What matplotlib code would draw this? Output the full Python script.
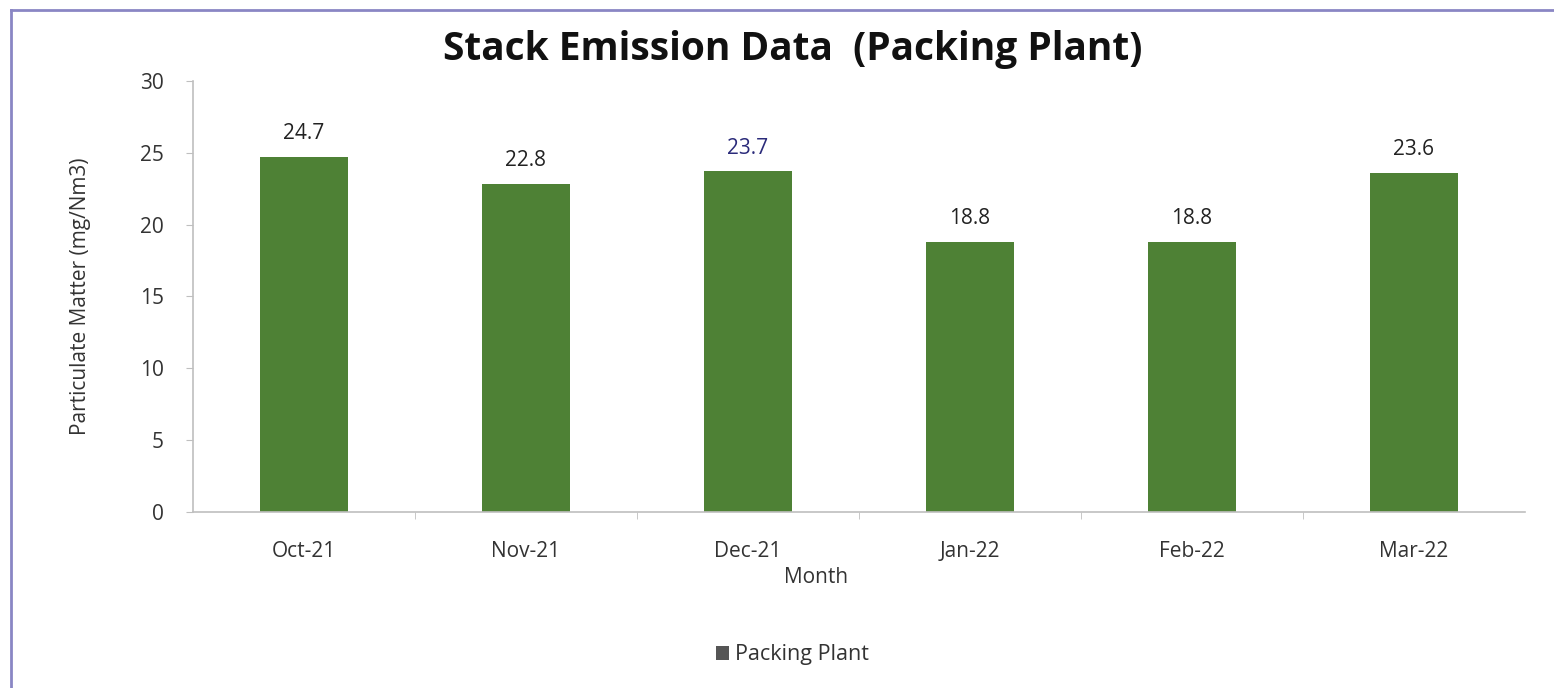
import matplotlib.pyplot as plt
from matplotlib.lines import Line2D
from matplotlib.patches import Patch

months = ["Oct-21", "Nov-21", "Dec-21", "Jan-22", "Feb-22", "Mar-22"]
pm_values = [24.7, 22.8, 23.7, 18.8, 18.8, 23.6]
label_colors = ["#222222", "#222222", "#2b2b7a", "#222222", "#222222", "#222222"]
y_ticks = [0, 5, 10, 15, 20, 25, 30]

plt.rcParams["font.family"] = ["Open Sans", "DejaVu Sans"]

fig = plt.figure(figsize=(15.54, 6.88), dpi=100)
ax = fig.add_axes([0.1242, 0.2558, 0.8571, 0.6265])

x = list(range(len(months)))
bars = ax.bar(x, pm_values, width=0.4, color="#4e8135", zorder=2)

for xi, v, c in zip(x, pm_values, label_colors):
    ax.text(xi, v + 0.9, f"{v}", ha="center", va="bottom", fontsize=15, color=c)

ax.set_xlim(-0.5, len(months) - 0.5)
ax.set_ylim(0, 30)
ax.set_yticks(y_ticks)
ax.set_xticks(x)
ax.set_xticklabels(months)
# category boundary ticks on the x axis
ax.set_xticks([i + 0.5 for i in range(len(months) - 1)], minor=True)
ax.tick_params(axis="x", which="major", length=0, pad=21, labelsize=15, labelcolor="#333333")
ax.tick_params(axis="x", which="minor", length=5, color="#bfbfbf")
ax.tick_params(axis="y", length=5, color="#bfbfbf", labelsize=15, labelcolor="#333333", pad=16)

for side in ["top", "right"]:
    ax.spines[side].set_visible(False)
for side in ["left", "bottom"]:
    ax.spines[side].set_color("#bfbfbf")
    ax.spines[side].set_linewidth(1.2)

ax.set_ylabel("Particulate Matter (mg/Nm3)", fontsize=15, color="#333333", labelpad=35)
ax.set_xlabel("Month", fontsize=15, color="#333333")
ax.xaxis.set_label_coords(0.468, -0.128)

fig.text(0.51, 0.928, "Stack Emission Data  (Packing Plant)", ha="center", va="center",
         fontsize=28, fontweight="bold", color="#111111")

handle = Patch(facecolor="#555555", edgecolor="none")
fig.legend([handle], ["Packing Plant"], loc="center", bbox_to_anchor=(0.51, 0.048),
           frameon=False, fontsize=15.5, handlelength=0.6, handleheight=0.6,
           handletextpad=0.3, labelcolor="#333333")

# outer chart frame (top and left edges visible)
fig.add_artist(Line2D([0.007, 1.0], [0.986, 0.986], transform=fig.transFigure,
                      color="#8a86c4", linewidth=2))
fig.add_artist(Line2D([0.007, 0.007], [0.0, 0.986], transform=fig.transFigure,
                      color="#8a86c4", linewidth=2))

fig.savefig("out.png", dpi=100)
plt.close(fig)
